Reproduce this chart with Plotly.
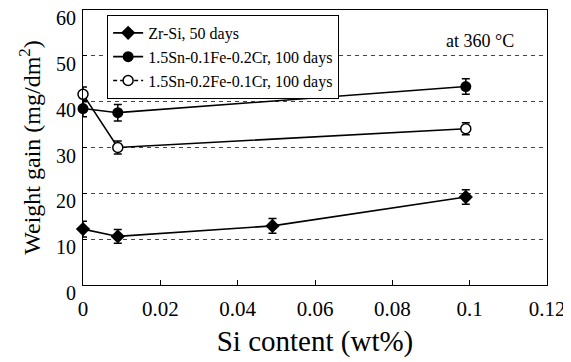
import plotly.graph_objects as go

# Data
si_zr = [0.0, 0.009, 0.049, 0.099]
wg_zr = [12.2, 10.6, 12.9, 19.2]
err_zr = [1.7, 1.5, 1.6, 1.6]

si_a = [0.0, 0.009, 0.099]
wg_a = [38.5, 37.6, 43.3]
err_a = [1.8, 1.8, 1.7]

si_b = [0.0, 0.009, 0.099]
wg_b = [41.6, 30.0, 34.1]
err_b = [1.6, 1.4, 1.3]

names = ["Zr-Si, 50 days", "1.5Sn-0.1Fe-0.2Cr, 100 days", "1.5Sn-0.2Fe-0.1Cr, 100 days"]
x_ticks = [0, 0.02, 0.04, 0.06, 0.08, 0.1, 0.12]
x_ticklabels = ["0", "0.02", "0.04", "0.06", "0.08", "0.1", "0.12"]
y_ticks = [0, 10, 20, 30, 40, 50, 60]

FONT = "Liberation Serif"

fig = go.Figure()

def err(v):
    return dict(type="data", array=v, visible=True, color="black", thickness=1.5, width=4)

fig.add_trace(go.Scatter(
    x=si_zr, y=wg_zr, name=names[0], mode="lines+markers",
    line=dict(color="black", width=1.6),
    marker=dict(symbol="diamond", size=11, color="black"),
    error_y=err(err_zr), cliponaxis=False))

fig.add_trace(go.Scatter(
    x=si_a, y=wg_a, name=names[1], mode="lines+markers",
    line=dict(color="black", width=1.6),
    marker=dict(symbol="circle", size=11, color="black"),
    error_y=err(err_a), cliponaxis=False))

fig.add_trace(go.Scatter(
    x=si_b, y=wg_b, name=names[2], mode="lines+markers", showlegend=False,
    line=dict(color="black", width=1.6),
    marker=dict(symbol="circle", size=10, color="white", line=dict(color="black", width=1.5)),
    error_y=err(err_b), cliponaxis=False))

# legend entry (dashed sample as in the reference legend)
fig.add_trace(go.Scatter(
    x=[None], y=[None], name=names[2], mode="lines+markers",
    line=dict(color="black", width=1.5, dash="4px,3px"),
    marker=dict(symbol="circle", size=10, color="white", line=dict(color="black", width=1.5))))

fig.add_annotation(x=0.1027, y=53.2, xref="x", yref="y", text="at 360 °C",
                   showarrow=False, font=dict(family=FONT, size=18, color="black"))

fig.update_layout(
    width=563, height=354,
    margin=dict(l=75, r=24, t=2, b=77, autoexpand=False),
    paper_bgcolor="white", plot_bgcolor="white",
    font=dict(family=FONT, color="black"),
    showlegend=True,
    legend=dict(x=0.052, y=0.982, xanchor="left", yanchor="top",
                bgcolor="white", bordercolor="black", borderwidth=1,
                font=dict(family=FONT, size=16, color="black"),
                tracegroupgap=0, itemwidth=30),
)

fig.update_xaxes(
    range=[0, 0.12], tickvals=x_ticks, ticktext=x_ticklabels,
    showline=True, linecolor="black", linewidth=1, mirror=True,
    ticks="inside", ticklen=5, tickcolor="black",
    showgrid=False, zeroline=False, automargin=False,
    ticklabelstandoff=5, ticklabeloverflow="allow",
    tickfont=dict(family=FONT, size=21, color="black"),
    title=dict(text="Si content (wt%)", font=dict(family=FONT, size=29, color="black"), standoff=10),
)

fig.update_yaxes(
    range=[0, 60], tickvals=y_ticks,
    showline=True, linecolor="black", linewidth=1, mirror=True,
    ticks="inside", ticklen=4, tickcolor="black",
    showgrid=True, gridcolor="#444444", gridwidth=1, griddash="4px,4px",
    zeroline=False, automargin=False,
    ticklabelshift=8, ticklabelstandoff=2, ticklabeloverflow="allow",
    tickfont=dict(family=FONT, size=20, color="black"),
    title=dict(text="Weight gain (mg/dm<sup>2</sup>)", font=dict(family=FONT, size=24, color="black"), standoff=8),
)

fig.write_html("out.html")
